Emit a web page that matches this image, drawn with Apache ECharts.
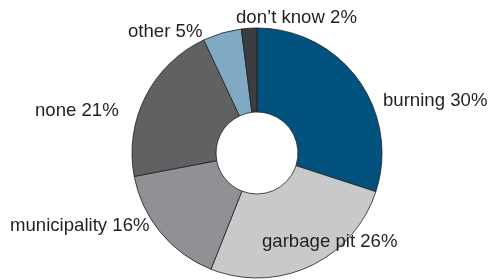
<!DOCTYPE html>
<html>
<head>
<meta charset="utf-8">
<script src="https://cdn.jsdelivr.net/npm/echarts@6/dist/echarts.min.js"></script>
<style>
html,body{margin:0;padding:0;background:#fff;}
#chart{width:491px;height:280px;}
</style>
</head>
<body>
<div id="chart"></div>
<script>
// slice names and shares (%)
var categories = ['burning', 'garbage pit', 'municipality', 'none', 'other', 'don\u2019t know'];
var shares = [30, 26, 16, 21, 5, 2];

var colors = ['#01527f', '#c8c9cb', '#8f9194', '#606163', '#80a9c3', '#3c3d3f'];
// where each label sits (left edge, vertical middle)
var labelPos = [[383, 101], [262, 242], [10, 226], [35, 111], [128, 32], [236, 18]];

var myChart = echarts.init(document.getElementById('chart'));

var pieData = [];
for (var i = 0; i < categories.length; i++) {
	pieData.push({
		name: categories[i],
		value: shares[i],
		itemStyle: {color: colors[i]}
	});
}

var option = {
	animation: false,
	series: [{
		type: 'pie',
		center: [257, 153],
		radius: [41, 125],
		startAngle: 90,
		clockwise: true,
		avoidLabelOverlap: false,
		itemStyle: {borderColor: '#231f20', borderWidth: 0.8},
		label: {
			show: true,
			position: 'outside',
			formatter: function(p){ return p.name + ' ' + p.value + '%'; },
			fontFamily: 'Liberation Sans',
			fontSize: 18.6,
			color: '#231f20'
		},
		labelLine: {show: false},
		labelLayout: function(params){
			var p = labelPos[params.dataIndex];
			return {x: p[0], y: p[1], align: 'left', verticalAlign: 'middle'};
		},
		emphasis: {disabled: true},
		data: pieData
	}]
};
myChart.setOption(option);
</script>
</body>
</html>
